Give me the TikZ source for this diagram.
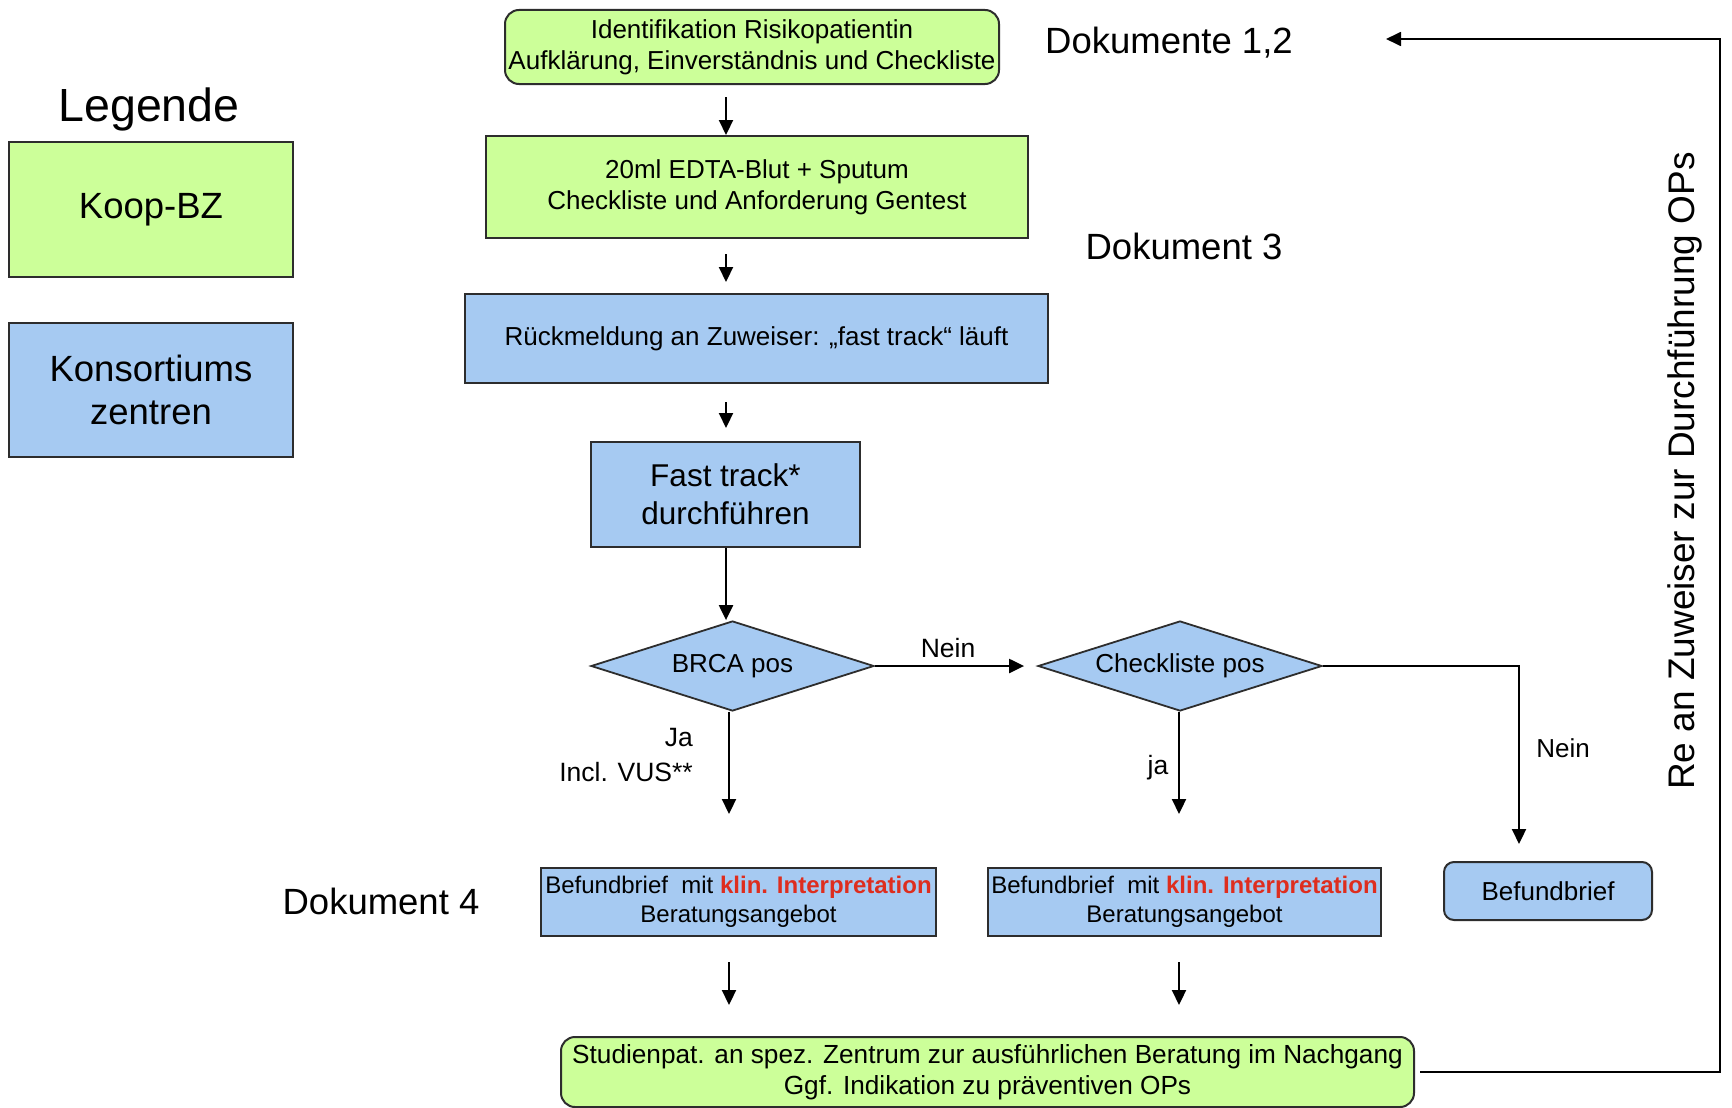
\documentclass[tikz,border=0pt]{standalone}
\usepackage{fontspec}
\setmainfont{Liberation Sans}
\usetikzlibrary{shapes.geometric,arrows.meta}
\definecolor{boxgreen}{RGB}{204,255,153}
\definecolor{boxblue}{RGB}{166,202,242}
\definecolor{klinred}{RGB}{222,45,30}
\definecolor{edgecol}{RGB}{45,45,45}
\begin{document}
\begin{tikzpicture}[x=1pt,y=-1pt,
  gbox/.style={draw=edgecol, line width=2pt, fill=boxgreen, inner sep=0pt, align=center},
  bbox/.style={draw=edgecol, line width=2pt, fill=boxblue, inner sep=0pt, align=center},
  decision/.style={diamond, draw=edgecol, line width=1.8pt, fill=boxblue, inner sep=0pt, align=center, aspect=3.1},
  arr/.style={-{Triangle[length=15pt,width=14pt]}, line width=2.2pt, draw=black},
  regtxt/.style={font=\fontsize{26}{31}\selectfont},
  lbltxt/.style={font=\fontsize{26.5}{31}\selectfont, inner sep=0pt},
  bigtxt/.style={font=\fontsize{36.5}{43}\selectfont, inner sep=0pt}]
\fill[white] (0,0) rectangle (1732,1108);
\useasboundingbox (0,0) rectangle (1732,1108);

% legend
\node[bigtxt, font=\fontsize{46.5}{50}\selectfont] (leg) at (149,109) {Legende};
\node[gbox, minimum width=284pt, minimum height=135pt, bigtxt] (koop) at (151,209.5) {\raisebox{-3pt}{Koop-BZ}};
\node[bbox, minimum width=284pt, minimum height=134pt, bigtxt] (kons) at (151,390) {Konsortiums\\zentren};

% documents
\node[bigtxt] (doc12) at (1169,43) {Dokumente 1,2};
\node[bigtxt] (doc3) at (1184,246) {Dokument 3};
\node[bigtxt] (doc4) at (381,901) {Dokument 4};

% main flow
\node[gbox, rounded corners=14pt, minimum width=494pt, minimum height=74pt, regtxt] (n1) at (752,47)
  {Identifikation Risikopatientin\\Aufklärung, Einverständnis und Checkliste};
\node[gbox, minimum width=542pt, minimum height=102pt, regtxt] (n2) at (757,187)
  {20ml EDTA-Blut + Sputum\\Checkliste und Anforderung Gentest};
\node[bbox, minimum width=583pt, minimum height=89pt, regtxt] (n3) at (756.5,338.5)
  {Rückmeldung an Zuweiser: „fast track“ läuft};
\node[bbox, minimum width=269pt, minimum height=105pt, font=\fontsize{31.5}{38}\selectfont] (n4) at (725.5,494.5)
  {Fast track*\\durchführen};
\node[decision, minimum width=283pt, minimum height=90pt, regtxt] (d1) at (732.5,666) {BRCA pos};
\node[decision, minimum width=284pt, minimum height=90pt, regtxt] (d2) at (1180,666) {Checkliste pos};

\node[bbox, minimum width=395pt, minimum height=68pt, font=\fontsize{24}{29}\selectfont] (f1) at (738.5,902)
  {Befundbrief\ \ mit {\bfseries\color{klinred}klin. Interpretation}\\Beratungsangebot};
\node[bbox, minimum width=393pt, minimum height=68pt, font=\fontsize{24}{29}\selectfont] (f2) at (1184.5,902)
  {Befundbrief\ \ mit {\bfseries\color{klinred}klin. Interpretation}\\Beratungsangebot};
\node[bbox, rounded corners=10pt, minimum width=208pt, minimum height=58pt, regtxt] (bb) at (1548,891) {Befundbrief};
\node[gbox, rounded corners=14pt, minimum width=853pt, minimum height=70pt, font=\fontsize{26.2}{31}\selectfont] (fin) at (987.5,1072)
  {Studienpat. an spez. Zentrum zur ausführlichen Beratung im Nachgang\\Ggf. Indikation zu präventiven OPs};

% labels
\node[lbltxt] (nein1) at (948,648) {Nein};
\node[lbltxt, anchor=east] (ja1) at (693,738) {Ja};
\node[lbltxt, anchor=east] (vus) at (693,772) {Incl. VUS**};
\node[lbltxt] (ja2) at (1158,768) {ja};
\node[lbltxt, font=\fontsize{26}{31}\selectfont] (nein2) at (1563,748) {Nein};
\node[font=\fontsize{37}{42}\selectfont, rotate=90, inner sep=0pt] (re) at (1685,471)
  {Re an Zuweiser zur Durchführung OPs};

% connectors
\coordinate (ax) at (726,0);
\coordinate (bx1) at (729,0);
\coordinate (bx2) at (1179,0);
\coordinate (cx) at (1519,0);
\coordinate (rx) at (1720,0);
\coordinate (fbend) at (1386,39);

\draw[arr, shorten <=12pt] (n1.south -| ax) -- (n2.north -| ax);
\draw[arr, shorten <=15pt, shorten >=11pt] (n2.south -| ax) -- (n3.north -| ax);
\draw[arr, shorten <=18pt, shorten >=13pt] (n3.south -| ax) -- (n4.north -| ax);
\draw[arr] (n4.south -| ax) -- (d1.north -| ax);
\draw[arr, shorten >=13pt] (d1.east) -- (d2.west);
\draw[arr, shorten >=53pt] (d1.south -| bx1) -- (f1.north -| bx1);
\draw[arr, shorten >=53pt] (d2.south -| bx2) -- (f2.north -| bx2);
\draw[arr, shorten >=17pt] (d2.east) -- (d2.east -| cx) -- (bb.north -| cx);
\draw[arr, shorten <=25pt, shorten >=31pt] (f1.south -| bx1) -- (fin.north -| bx1);
\draw[arr, shorten <=25pt, shorten >=31pt] (f2.south -| bx2) -- (fin.north -| bx2);
\draw[arr, line width=1.8pt, shorten <=5pt] (fin.east) -- (fin.east -| rx) -- (rx |- fbend) -- (fbend);
\end{tikzpicture}
\end{document}
